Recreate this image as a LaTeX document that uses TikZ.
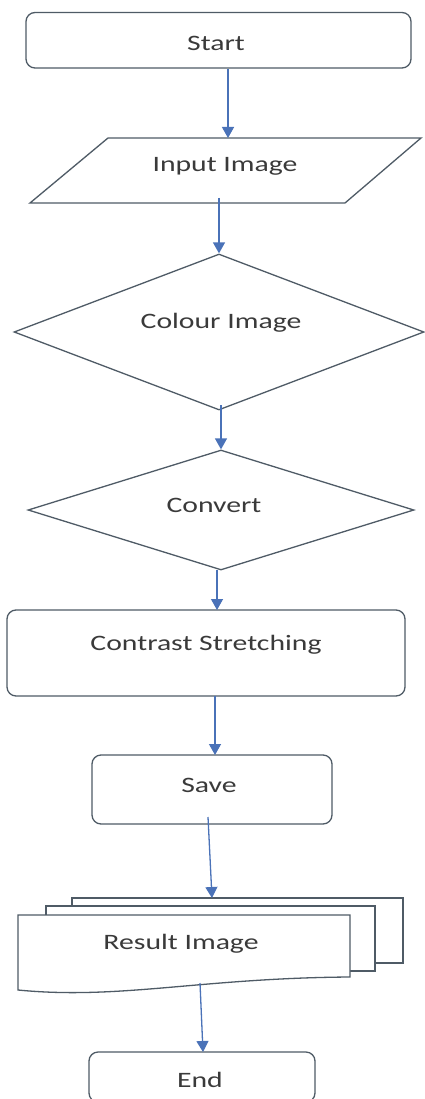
\documentclass[tikz,border=0pt]{standalone}
\usepackage{fontspec}
\setmainfont[FakeStretch=1.35]{Carlito}
\usetikzlibrary{shapes.geometric,arrows.meta}
\definecolor{shapecol}{HTML}{4F5B66}
\definecolor{arrowcol}{HTML}{4A72B8}
\definecolor{textcol}{HTML}{3A3A3A}
\begin{document}
\begin{tikzpicture}[x=1pt,y=-1pt,
  outline/.style={draw=shapecol, line width=1.3pt},
  box/.style={outline, rounded corners=9pt, inner sep=0pt},
  dia/.style={outline, diamond, inner sep=0pt},
  arr/.style={draw=arrowcol, line width=1.3pt, -{Triangle[length=11pt,width=12pt]}},
  lbl/.style={font=\fontsize{22}{26}\selectfont, text=textcol, inner sep=0pt}]
\useasboundingbox (0,0) rectangle (424,1099);
\fill[white] (0,0) rectangle (424,1099);

% Start
\node[box, minimum width=385pt, minimum height=55.5pt] (start) at (218.5,40.25) {};
\node[lbl] (startT) at (216,43) {Start};

% Input Image (parallelogram)
\coordinate (inTL) at (108,138);
\coordinate (inTR) at (421,138);
\coordinate (inBR) at (345,203);
\coordinate (inBL) at (30,203);
\draw[outline] (inTL) -- (inTR) -- (inBR) -- (inBL) -- cycle;
\node[lbl] (input) at (225,166) {Input Image};
\coordinate (inTop) at (228,138);
\coordinate (inOut) at (219,198);

% Colour Image (diamond)
\node[dia, minimum width=410pt, minimum height=156pt] (colour) at (219,332) {};
\node[lbl] (colourT) at (221,323) {Colour Image};
\coordinate (colOut) at (221,405);

% Convert (diamond)
\node[dia, minimum width=386pt, minimum height=120pt] (convert) at (221,510) {};
\node[lbl] (convertT) at (214,505) {Convert};
\coordinate (convOut) at (217,570);

% Contrast Stretching
\node[box, minimum width=398pt, minimum height=86pt] (contrast) at (206,653) {};
\node[lbl] (contrastT) at (206,645) {Contrast Stretching};
\coordinate (contIn) at (217,610);
\coordinate (contOut) at (215,696);

% Save
\node[box, minimum width=240pt, minimum height=69pt] (save) at (212,789.5) {};
\node[lbl] (saveT) at (209,785) {Save};
\coordinate (saveIn) at (215,755);
\coordinate (saveOut) at (208,817);

% Result Image (multi-document)
\draw[outline, fill=white] (72,898) rectangle (403,963);
\draw[outline, fill=white] (46,906) rectangle (375,971);
\draw[outline, fill=white] (18,915) -- (350,915) -- (350,977)
  .. controls (200,978) and (120,1000) .. (18,990) -- cycle;
\node[lbl] (result) at (181,944) {Result Image};
\coordinate (resIn) at (212,898);
\coordinate (resOut) at (200,983);

% End
\node[box, minimum width=226pt, minimum height=50pt] (end) at (202,1077) {};
\node[lbl] (endT) at (200,1080) {End};
\coordinate (endIn) at (203,1052);

% Connectors
\draw[arr] (start.south -| inTop) -- (inTop);
\draw[arr] (inOut) -- (colour.north);
\draw[arr] (colOut) -- (convert.north);
\draw[arr] (convOut) -- (contIn);
\draw[arr] (contOut) -- (saveIn);
\draw[arr] (saveOut) -- (resIn);
\draw[arr] (resOut) -- (endIn);
\end{tikzpicture}
\end{document}
